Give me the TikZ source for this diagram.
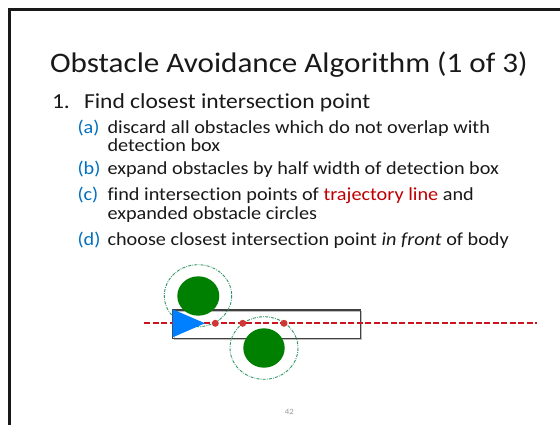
\documentclass[tikz,border=0pt]{standalone}
\usepackage{fontspec}
\setmainfont{Carlito}[Ligatures={NoCommon,NoRequired,NoContextual},FakeStretch=1.1]
\definecolor{lblue}{RGB}{0,112,192}
\definecolor{tred}{RGB}{192,0,0}
\definecolor{obgreen}{RGB}{0,128,0}
\definecolor{ringgreen}{RGB}{50,150,100}
\definecolor{tri}{RGB}{0,128,255}
\definecolor{trajred}{RGB}{205,20,30}
\definecolor{dotred}{RGB}{210,55,55}
\begin{document}
\begin{tikzpicture}[x=1pt,y=-1pt,
  txt/.style={anchor=base west,inner sep=0pt,outer sep=0pt,text=black!90},
  titletxt/.style={txt,font=\fontsize{28.3}{34}\selectfont},
  itemtxt/.style={txt,font=\fontsize{21.4}{25}\selectfont},
  subtxt/.style={txt,font=\fontsize{18.4}{22}\selectfont},
  lbl/.style={subtxt,text=lblue},
  obstacle/.style={fill=obgreen,draw=none},
  ring/.style={draw=ringgreen,line width=0.9pt,dash pattern=on 3pt off 1.2pt on 0.8pt off 1.2pt},
  detbox/.style={draw=black!75,line width=1.1pt},
  traj/.style={color=trajred,line width=1.8pt,dash pattern=on 6pt off 2.5pt},
  ipoint/.style={circle,fill=dotred,inner sep=0pt,minimum size=7pt}]
\useasboundingbox (0,0) rectangle (560,424);
\fill[white] (0,0) rectangle (560,424);
% slide frame
\draw[black!90,line width=2.6pt] (9.5,430) -- (9.5,9.5) -- (570,9.5);
% texts
\node[titletxt] (title) at (50,72) {Obstacle Avoidance Algorithm (1 of 3)};
\node[itemtxt] (n1) at (52,108) {1.};
\node[itemtxt] (i1) at (84,108) {Find closest intersection point};
\node[lbl] (la) at (77.5,133) {(a)};
\node[subtxt] (ta) at (107.5,133) {discard all obstacles which do not overlap with};
\node[subtxt] (ta2) at (107.5,151.5) {detection box};
\node[lbl] (lb) at (77.5,174) {(b)};
\node[subtxt] (tb) at (107.5,174) {expand obstacles by half width of detection box};
\node[lbl] (lc) at (77.5,200) {(c)};
\node[subtxt] (tc) at (107.5,200) {find intersection points of \textcolor{tred}{trajectory line} and};
\node[subtxt] (tc2) at (107.5,219.5) {expanded obstacle circles};
\node[lbl] (ld) at (77.5,245) {(d)};
\node[subtxt] (td) at (107.5,245) {choose closest intersection point \textit{in front} of body};
% diagram
\draw[black!25,line width=1pt] (174.5,311.5) rectangle (361.5,339.8);
\draw[detbox] (172.7,310) rectangle (360.3,338.3);
\draw[ring] (198,295.7) ellipse [x radius=33.7,y radius=31];
\draw[ring] (264,348) ellipse [x radius=34,y radius=31.3];
\fill[obstacle] (198.3,296) ellipse [x radius=21,y radius=19.7];
\fill[obstacle] (264,348) ellipse [x radius=20.7,y radius=19.7];
\coordinate (ts) at (144.3,323.3);
\coordinate (te) at (536.7,323.3);
\draw[traj] (ts) -- (te);
\fill[tri] (172.7,309.3) -- (205,323.3) -- (172.7,337.3) -- cycle;
\node[ipoint] (p1) at (215.3,323.3) {};
\node[ipoint] (p2) at (242.7,323.3) {};
\node[ipoint] (p3) at (284,323.3) {};
\node[anchor=base,inner sep=0pt,text=black!40,font=\fontsize{8}{9}\selectfont] (pg) at (289.3,414) {42};
\end{tikzpicture}
\end{document}
